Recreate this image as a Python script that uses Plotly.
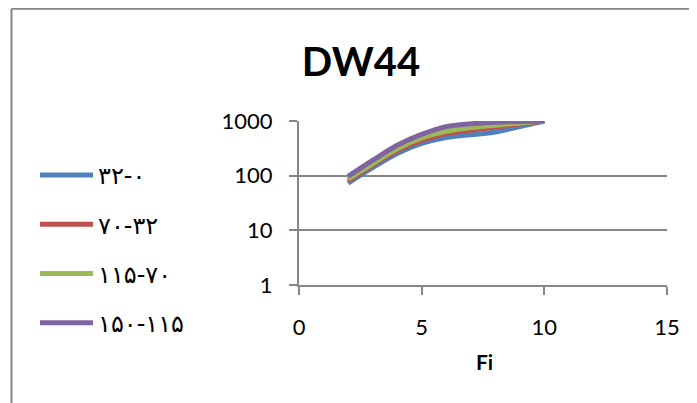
import plotly.graph_objects as go

# Data
fi = [2, 3, 4, 5, 6, 7, 8, 9, 10]
series_names = ["۳۲-۰", "۷۰-۳۲", "۱۱۵-۷۰", "۱۵۰-۱۱۵"]
s_0_32 = [73, 140, 255, 390, 500, 560, 630, 790, 1000]
s_32_70 = [80, 155, 285, 440, 590, 680, 770, 880, 1000]
s_70_115 = [87, 165, 310, 490, 650, 760, 840, 920, 1000]
s_115_150 = [97, 190, 360, 570, 790, 890, 945, 980, 1000]
colors = ["#4F81BD", "#C0504D", "#9BBB59", "#8064A2"]

x_ticks = [0, 5, 10, 15]
y_ticks = [1, 10, 100, 1000]
y_tick_labels = ["1", "10", "100", "1000"]

OFF = 8  # page body margin
W, H = 697 - OFF, 403 - OFF
# plot area in screen pixels, converted to figure pixels
L, R, T, B = 299 - OFF, 667 - OFF, 121 - OFF, 285 - OFF


def py(screen_y):
    return (B - (screen_y - OFF)) / (B - T)


def px(screen_x):
    return ((screen_x - OFF) - L) / (R - L)


fig = go.Figure()
for i, (name, vals) in enumerate(zip(series_names, [s_0_32, s_32_70, s_70_115, s_115_150])):
    fig.add_trace(go.Scatter(
        x=fi, y=vals, name=name, mode="lines",
        line=dict(color=colors[i], width=5, shape="spline", smoothing=1.0),
        legendgroup=f"g{i}",
    ))

grid = "#868686"
font_main = "Lato, 'Liberation Sans', sans-serif"

fig.update_layout(
    width=W, height=H,
    margin=dict(l=L, r=W - R, t=T, b=H - B, pad=0, autoexpand=False),
    paper_bgcolor="white", plot_bgcolor="white",
    font=dict(family=font_main, color="black", size=22),
    title=dict(text="<b>DW44</b>", x=(361 - OFF) / W, xref="container", xanchor="center",
               y=1 - (62 - OFF) / H, yref="container", yanchor="middle",
               font=dict(size=40, family=font_main, color="black")),
    showlegend=True,
    legend=dict(
        x=px(35), xanchor="left",
        y=py(249), yanchor="middle",
        font=dict(size=24, family="'DejaVu Sans', sans-serif", color="black"),
        tracegroupgap=15, traceorder="grouped", itemwidth=53,
        bgcolor="rgba(0,0,0,0)", maxheight=320,
    ),
    xaxis=dict(
        range=[0, 15], tickvals=x_ticks, showgrid=False, zeroline=False,
        showline=True, linecolor=grid, linewidth=2,
        ticks="outside", ticklen=8, tickwidth=2, tickcolor=grid,
        ticklabelstandoff=14, tickfont=dict(size=22),
    ),
    yaxis=dict(
        type="log", range=[0, 3], tickvals=y_ticks, ticktext=y_tick_labels,
        showgrid=True, gridcolor=grid, gridwidth=2, zeroline=False,
        showline=True, linecolor=grid, linewidth=2,
        ticks="outside", ticklen=8, tickwidth=2, tickcolor=grid,
        ticklabelstandoff=12, tickfont=dict(size=22),
    ),
    annotations=[dict(
        text="<b>Fi</b>", x=px(484), xref="paper", xanchor="center",
        y=py(361), yref="paper", yanchor="middle",
        showarrow=False, font=dict(size=21, family=font_main, color="black"),
    )],
    shapes=[
        dict(type="line", xref="paper", yref="paper",
             x0=px(11.5), x1=px(720), y0=py(8.7), y1=py(8.7),
             line=dict(color=grid, width=2)),
        dict(type="line", xref="paper", yref="paper",
             x0=px(11.5), x1=px(11.5), y0=py(8.7), y1=py(420),
             line=dict(color=grid, width=2)),
    ],
)

fig.write_html("out.html")
